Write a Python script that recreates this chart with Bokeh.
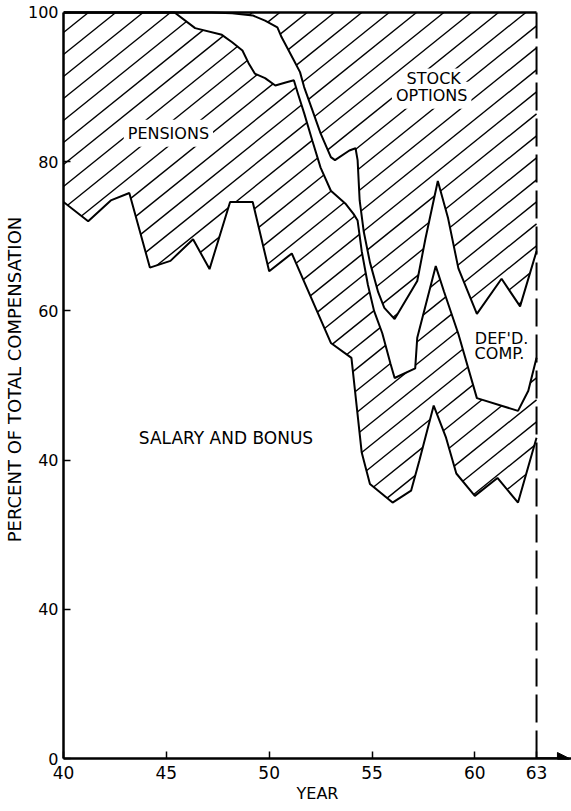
import numpy as np
from bokeh.plotting import figure
from bokeh.models import Arrow, NormalHead, Label
from bokeh.embed import file_html
from bokeh.resources import INLINE

# ---- data ----
# top of "salary and bonus" band
years_s = [40, 41.2, 42.3, 43.2, 44.2, 45.2, 46.3, 47.1, 48.1, 49.2, 50.0, 51.1, 53.0,
           54.0, 54.5, 54.9, 56.0, 56.9, 57.3, 58.0, 58.6, 59.1, 60.0, 61.1, 62.1, 63.0]
salary_top = [74.6, 72.0, 74.8, 75.8, 65.8, 66.7, 69.6, 65.6, 74.6, 74.6, 65.3, 67.7, 55.7,
              53.7, 41.0, 36.8, 34.3, 35.9, 39.9, 47.3, 43.0, 38.2, 35.2, 37.6, 34.3, 43.0]

# top of "pensions" band
years_p = [40, 45.4, 46.4, 47.7, 48.2, 48.7, 49.0, 49.3, 49.8, 50.3, 50.8, 51.2, 51.4, 51.7,
           52.1, 52.5, 53.0, 53.7, 54.1, 54.3, 54.5, 54.8, 55.1, 55.5, 55.9, 56.1, 57.1, 57.2,
           58.1, 58.5, 59.2, 60.1, 62.1, 62.6, 63.0]
pension_top = [100, 100, 97.9, 97.0, 96.0, 94.9, 93.2, 91.8, 91.2, 90.2, 90.6, 90.9, 89.1, 86.5,
               82.8, 79.2, 76.1, 74.4, 73.0, 72.1, 68.0, 63.5, 60.0, 57.0, 52.9, 51.0, 52.3, 56.4,
               66.0, 62.6, 56.9, 48.3, 46.6, 49.3, 53.7]

# top of "deferred compensation" band (bottom of stock options)
years_d = [40, 47.2, 48.2, 49.2, 49.8, 50.4, 50.6, 51.2, 51.5, 51.7, 52.1, 52.5, 53.0, 53.2,
           53.9, 54.2, 54.3, 54.4, 54.6, 54.9, 55.3, 55.6, 56.1, 57.2, 57.6, 58.2, 58.7, 59.2,
           60.1, 61.3, 62.2, 63.0]
defcomp_top = [100, 100, 99.9, 99.6, 98.9, 98.0, 96.7, 93.6, 92.0, 90.0, 86.9, 83.8, 80.6, 80.2,
               81.5, 81.8, 80.2, 74.8, 70.6, 66.5, 62.5, 60.4, 58.9, 64.0, 69.7, 77.4, 72.4, 65.7,
               59.6, 64.3, 60.6, 68.0]

x_ticks = [40, 45, 50, 55, 60, 63]
y_ticks = [0, 20, 40, 60, 80, 100]
y_tick_labels = ["0", "40", "40", "60", "80", "100"]
x_axis_end = 64.7
y_axis_end = 101.6

label_text = ["PENSIONS", "SALARY AND BONUS", "OPTIONS", "STOCK", "DEF'D.", "COMP."]
label_x = [45.1, 47.9, 57.9, 58.0, 61.3, 61.2]
label_y = [83.8, 42.9, 88.9, 91.2, 56.3, 54.3]
label_bg = [True, False, True, True, False, False]

FONT = "DejaVu Sans"
W, H = 571, 811
BL, BB = 60, 53

p = figure(width=W, height=H, x_range=(x_ticks[0], x_axis_end), y_range=(0, y_axis_end),
           output_backend="svg", toolbar_location=None,
           min_border_left=BL, min_border_right=0, min_border_top=0, min_border_bottom=BB)
p.outline_line_color = None
p.xgrid.visible = False
p.ygrid.visible = False
p.background_fill_color = "white"
p.border_fill_color = "white"

x0, x1 = x_ticks[0], x_ticks[-1]
ytop = y_ticks[-1]

# ---- diagonal hatching (style): lines of slope 0.8 on screen, 22 px apart, clipped to a band
KX = (W - BL) / (x_axis_end - x0)   # screen px per year
KY = (H - BB) / y_axis_end          # screen px per percent
SLOPE, GAP = 0.8, 22.0


def hatch_segments(px, py):
    X = (np.asarray(px, float) - x0) * KX
    Y = np.asarray(py, float) * KY
    X2, Y2 = np.roll(X, -1), np.roll(Y, -1)
    off = Y - SLOPE * X
    xs, ys = [], []
    for c in np.arange(np.floor(off.min() / GAP) * GAP, off.max() + GAP, GAP):
        f1 = Y - SLOPE * X - c
        f2 = Y2 - SLOPE * X2 - c
        m = (f1 > 0) != (f2 > 0)
        t = f1[m] / (f1[m] - f2[m])
        xi = np.sort(X[m] + t * (X2[m] - X[m]))
        for a, b in zip(xi[0::2], xi[1::2]):
            if b - a < 0.5:
                continue
            xs.append([a / KX + x0, b / KX + x0])
            ys.append([(SLOPE * a + c) / KY, (SLOPE * b + c) / KY])
    return xs, ys


# pensions band (between salary top and pension top)
hx, hy = hatch_segments(years_s + years_p[::-1], salary_top + pension_top[::-1])
p.multi_line(hx, hy, line_color="black", line_width=1.4)
# stock options band (between deferred-comp top and 100 %)
hx, hy = hatch_segments(years_d + [x1, x0], defcomp_top + [ytop, ytop])
p.multi_line(hx, hy, line_color="black", line_width=1.4)

# boundary lines
for xs, ys in [(years_s, salary_top), (years_p, pension_top), (years_d, defcomp_top)]:
    p.line(xs, ys, line_color="black", line_width=2)

# top frame line and dashed right edge
p.line([x0, x1], [ytop, ytop], line_color="black", line_width=2.5)
p.line([x1, x1], [0, ytop], line_color="black", line_width=2, line_dash="28 8")

# axis arrow
p.add_layout(Arrow(end=NormalHead(size=12, fill_color="black", line_color="black"),
                   x_start=x1, y_start=0, x_end=x_axis_end - 0.1, y_end=0,
                   line_color="black", line_width=2.5))

for t, x, y, bg in zip(label_text, label_x, label_y, label_bg):
    p.add_layout(Label(x=x, y=y, text=t, text_align="center", text_baseline="middle",
                       text_font=FONT, text_font_size="17px" if t.startswith("SAL") else "16px",
                       text_color="black",
                       background_fill_color="white" if bg else None,
                       padding=0 if t == "STOCK" else 4))

# axes
p.xaxis.ticker = x_ticks
p.yaxis.ticker = y_ticks
p.yaxis.major_label_overrides = dict(zip(y_ticks, y_tick_labels))
p.yaxis.bounds = (0, ytop)
for ax in (p.xaxis[0], p.yaxis[0]):
    ax.axis_line_width = 2.5
    ax.axis_line_color = "black"
    ax.major_tick_in = 7
    ax.major_tick_out = 0
    ax.major_tick_line_width = 1.5
    ax.minor_tick_line_color = None
    ax.major_label_text_font = FONT
    ax.major_label_text_color = "black"
    ax.axis_label_text_font = FONT
    ax.axis_label_text_font_style = "normal"
    ax.axis_label_text_color = "black"
p.xaxis.major_label_text_font_size = "17px"
p.yaxis.major_label_text_font_size = "16px"
p.xaxis.axis_label = "YEAR"
p.xaxis.axis_label_text_font_size = "16px"
p.xaxis.major_label_standoff = 7
p.xaxis.axis_label_standoff = 2
p.yaxis.axis_label = "PERCENT OF TOTAL COMPENSATION"
p.yaxis.axis_label_text_font_size = "18px"
p.yaxis.major_label_standoff = 5
p.yaxis.axis_label_standoff = 0

open("out.html", "w").write(file_html(p, INLINE))
